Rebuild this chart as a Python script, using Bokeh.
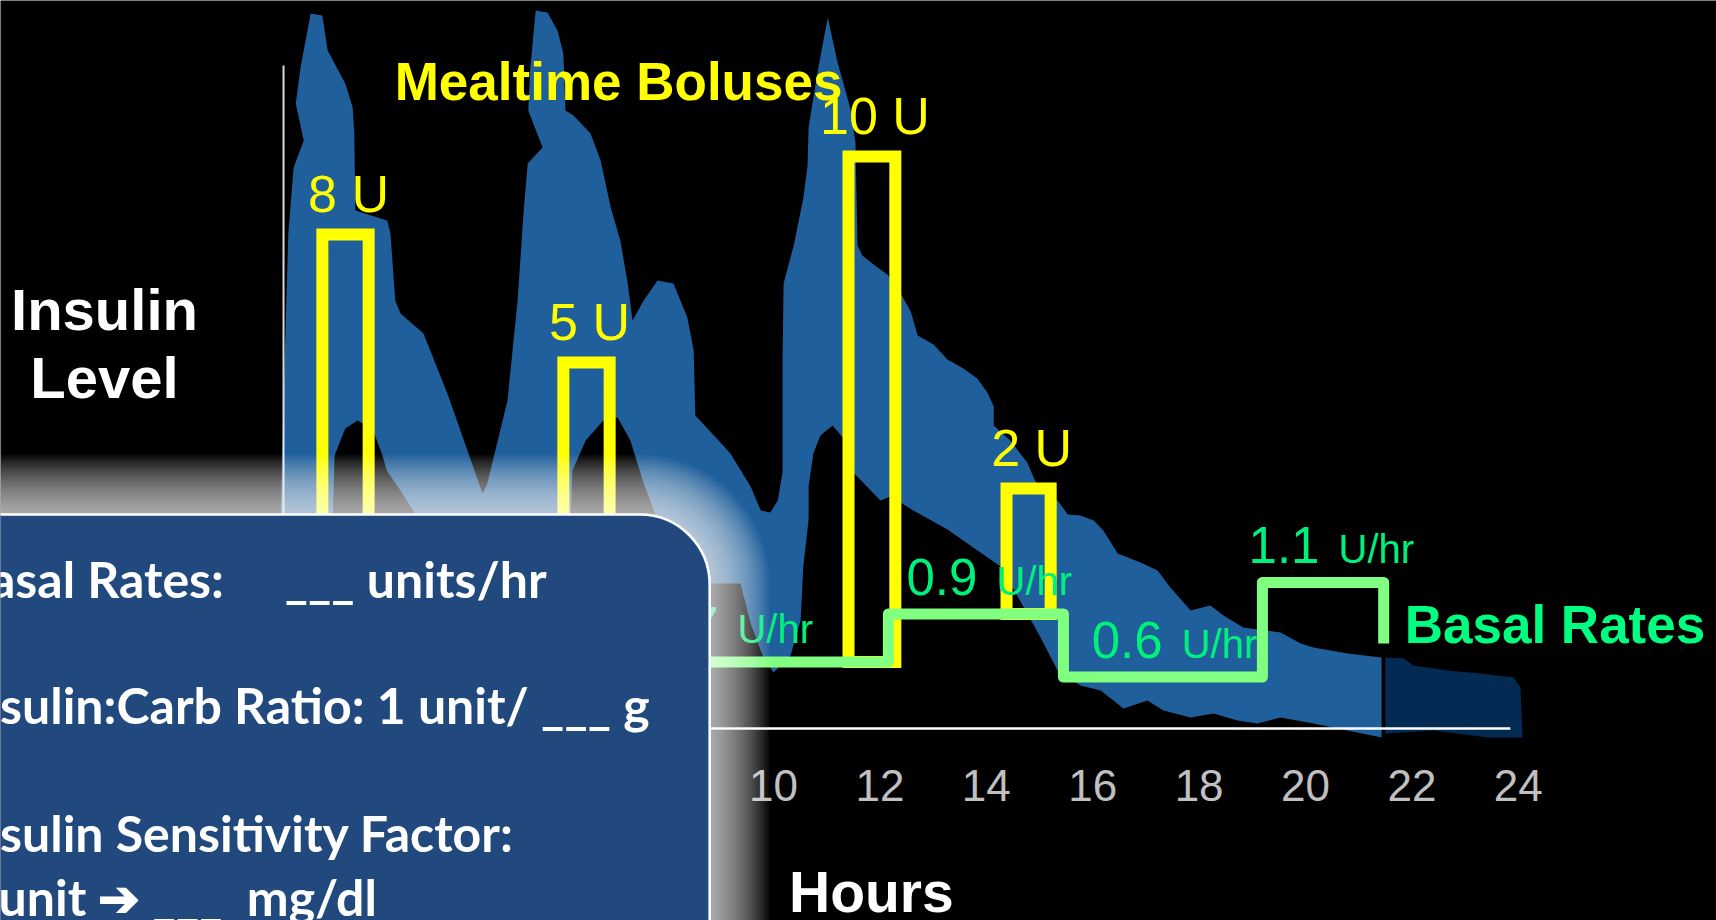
from bokeh.plotting import figure
from bokeh.models import Range1d, BoxAnnotation, Label
from bokeh.core.properties import value
from bokeh.embed import file_html
from bokeh.resources import INLINE

# ---------------- data (hours on x, arbitrary insulin level on y) ----------------
tick_hours = [2, 4, 6, 8, 10, 12, 14, 16, 18, 20, 22, 24]
tick_labels = [str(h) for h in tick_hours]

# insulin level band: upper outline (left -> right)
upper_hours = [0.73, 0.79, 0.88, 0.98, 1.17, 1.02, 1.11, 1.30, 1.52, 1.62, 1.95, 2.09, 2.12, 2.14,
               2.74, 2.80, 2.89, 2.99, 3.42, 3.87, 4.36, 4.53, 4.62, 5.00, 5.19, 5.30, 5.38, 5.66,
               5.39, 5.43, 5.53, 5.75, 5.94, 6.05, 6.09, 6.24, 6.56, 6.75, 6.94, 7.12, 7.26, 7.35,
               7.56, 7.82, 8.12, 8.38, 8.50, 8.53, 8.95, 9.19, 9.57, 9.76, 9.94, 10.08, 10.17, 10.17,
               10.19, 10.38, 10.56, 10.64, 10.66, 10.83, 11.02, 11.20, 11.45, 11.54, 11.58, 11.67,
               11.88, 12.14, 12.39, 12.58, 12.71, 13.01, 13.27, 13.57, 13.83, 14.02, 14.14, 14.14,
               14.45, 14.77, 14.89, 15.02, 15.34, 15.53, 15.77, 16.02, 16.20, 16.47, 16.90, 17.22,
               17.46, 17.84, 18.21, 18.46, 18.83, 19.53, 19.91, 20.15, 20.79, 21.43]
upper_levels = [3.96, 6.56, 9.90, 11.22, 11.76, 12.50, 13.22, 14.30, 14.26, 13.56, 12.90, 12.42, 11.90, 10.36,
                10.16, 9.90, 8.56, 8.30, 7.90, 6.70, 5.22, 4.70, 4.90, 6.56, 8.56, 10.30, 11.30, 11.62,
                12.36, 13.22, 14.36, 14.32, 13.96, 13.50, 12.36, 12.26, 11.90, 11.36, 10.42, 9.76, 8.90, 8.16,
                8.56, 8.96, 8.90, 8.22, 7.56, 6.26, 5.78, 5.50, 4.84, 4.36, 4.32, 4.56, 5.12, 7.38,
                8.90, 9.66, 10.60, 11.26, 12.02, 13.14, 14.22, 13.34, 12.38, 11.72, 9.66, 9.46,
                9.28, 9.08, 8.70, 8.34, 7.86, 7.68, 7.38, 7.20, 7.00, 6.72, 6.44, 6.06,
                5.76, 5.32, 5.02, 4.74, 4.56, 4.28, 4.26, 4.16, 3.96, 3.50, 3.32, 3.16,
                2.82, 2.36, 2.46, 2.26, 2.02, 1.92, 1.70, 1.62, 1.50, 1.42]
# lower outline (right -> left)
lower_hours = [21.43, 20.79, 20.15, 19.53, 19.10, 18.72, 18.27, 17.84, 17.33, 17.03, 16.58, 16.39,
               16.15, 15.77, 15.34, 15.02, 14.77, 14.27, 13.89, 13.27, 12.63, 12.20, 12.01, 11.50,
               11.35, 11.11, 10.88, 10.75, 10.66, 10.66, 10.56, 10.51, 10.32, 10.00, 9.81, 9.57,
               9.38, 8.80, 8.25, 7.78, 7.56, 7.31, 7.07, 6.80, 6.47, 6.22, 6.18, 3.27, 3.27, 2.99,
               2.73, 2.65, 2.46, 2.18, 1.95, 1.75, 1.71]
lower_levels = [-0.18, -0.04, 0.10, 0.22, 0.10, 0.16, 0.30, 0.22, 0.36, 0.56, 0.40, 0.56,
                0.76, 0.86, 1.16, 1.82, 2.30, 3.24, 3.52, 3.98, 4.36, 4.64, 4.56, 5.12,
                5.76, 6.06, 5.86, 5.50, 4.84, 4.18, 3.24, 2.16, 1.46, 1.12, 1.42, 2.10,
                2.90, 2.90, 3.66, 4.28, 4.90, 5.76, 6.22, 6.16, 5.76, 5.16, 3.96, 3.96, 4.28, 4.76,
                5.16, 5.46, 6.00, 6.16, 6.00, 5.46, 3.96]
# projected (darker) tail of the insulin level
proj_hours = [21.50, 21.84, 22.03, 22.67, 23.29, 23.91, 24.04, 24.08, 23.42, 22.41, 21.50]
proj_levels = [1.42, 1.40, 1.26, 1.16, 1.10, 1.02, 0.82, -0.18, -0.18, -0.04, -0.10]

# mealtime boluses
bolus_labels = ["8 U", "5 U", "10 U", "2 U"]
bolus_start = [1.52, 6.05, 11.41, 14.38]
bolus_end = [2.39, 6.92, 12.29, 15.21]
bolus_peak = [9.88, 7.32, 11.44, 4.80]

# basal rates (drawn step levels)
basal_start = [0.75, 12.16, 15.45, 19.19]
basal_stop = 21.47
basal_level = [1.33, 2.29, 1.03, 2.92]
basal_tail_level = 1.70
basal_rate_labels = ["0.7", "0.9", "0.6", "1.1"]
basal_label_at = [7.63, 12.50, 15.98, 18.93]

# info panel (covering the left-bottom part of the chart)
panel_lines = ["Basal Rates:\u00a0\u00a0\u00a0\u00a0\u00a0___ units/hr",
               "Insulin:Carb Ratio: 1 unit/ ___ g",
               "Insulin Sensitivity Factor:",
               "1 unit \u2794 ___\u00a0 mg/dl"]
panel_line_levels = [2.64, 0.12, -2.44, -3.72]

# ---------------- figure ----------------
PXH = 53.2   # pixels per hour
PXL = 50.0   # pixels per level unit
BL = 0.355   # baseline correction (fraction of font size) for svg text
p = figure(width=1716, height=920,
           x_range=Range1d(-4.5301, 27.7256), y_range=Range1d(-3.84, 14.56),
           output_backend="svg", toolbar_location=None, min_border=0,
           x_axis_location=None, y_axis_location=None,
           background_fill_color="black", border_fill_color="black",
           outline_line_color=None)
p.xgrid.visible = False
p.ygrid.visible = False

BLUE = "#1f5f9c"
DARK = "#022a52"
YELLOW = "#ffff00"
GREEN_LINE = "#80ff80"
GREEN_TXT = "#00f07c"
AR = value("Liberation Sans")

# insulin level band
p.patch(upper_hours + lower_hours, upper_levels + lower_levels,
        fill_color=BLUE, line_color=None)
p.patch(proj_hours, proj_levels, fill_color=DARK, line_color=None)

# axes lines
AXIS_X0 = 0.79
p.segment(x0=[AXIS_X0], y0=[0], x1=[AXIS_X0], y1=[13.26], line_color="white", line_width=2, line_alpha=0.85)
p.segment(x0=[AXIS_X0], y0=[0], x1=[23.85], y1=[0], line_color="white", line_width=2.5)

# basal step line
def basal_at(h):
    lvl = basal_level[0]
    for s, l in zip(basal_start, basal_level):
        if h >= s:
            lvl = l
    return lvl

bx, by = [], []
ends = basal_start[1:] + [basal_stop]
for s, e, l in zip(basal_start, ends, basal_level):
    bx += [s, e]
    by += [l, l]
bx.append(basal_stop)
by.append(basal_tail_level)

# bolus bars
p.quad(left=bolus_start, right=bolus_end,
       bottom=[basal_at(s) for s in bolus_start], top=bolus_peak,
       fill_color=None, line_color=YELLOW, line_width=12, line_join="miter")
p.line(bx, by, line_color=GREEN_LINE, line_width=11, line_join="round")

def txt(x, y, text, size, color, align="left", bold=False, dx=0, dy=0):
    p.text(x=x, y=y, text=text, x_offset=dx, y_offset=dy - BL * size,
           text_align=align, text_baseline="alphabetic", text_font=AR,
           text_font_size=f"{size}px", text_font_style="bold" if bold else "normal",
           text_color=color)

# bolus labels
txt([(a + b) / 2 for a, b in zip(bolus_start, bolus_end)], bolus_peak, bolus_labels, 52, YELLOW,
    align="center", dx=3, dy=-22)

# basal labels
lab_lvls = [basal_level[i] for i in range(len(basal_rate_labels))]
txt(basal_label_at, lab_lvls, basal_rate_labels, 51, GREEN_TXT, dy=-19)
txt(basal_label_at, lab_lvls, ["U/hr"] * len(basal_label_at), 40, GREEN_TXT, dx=90, dy=-19)
txt([basal_stop], [basal_tail_level], ["Basal Rates"], 53, "#00ff80", bold=True, dx=21)

# titles
txt([2.88], [12.56], ["Mealtime Boluses"], 53, YELLOW, bold=True)
txt([-2.575, -2.575], [7.96, 6.60], ["Insulin", "Level"], 58, "white", align="center", bold=True)

# x tick labels and axis title
txt(tick_hours, [0] * len(tick_hours), tick_labels, 44, "#c0c0c0", align="center", dy=73)
txt([11.84], [0], ["Hours"], 57, "white", align="center", bold=True, dy=184)

# info panel with soft glow
P_LEFT, P_RIGHT, P_TOP, P_BOTTOM = -6.5, 8.80, 4.28, -5.5
RADIUS = 70
N_GLOW, STEP = 30, 2
for k in range(N_GLOW, 0, -1):
    d = STEP * k
    p.add_layout(BoxAnnotation(left=P_LEFT - 1, right=P_RIGHT + d / PXH, top=P_TOP + d / PXL,
                               bottom=P_BOTTOM - 1, fill_color="white", fill_alpha=0.04,
                               line_alpha=0, border_radius=RADIUS + d, level="annotation"))
p.add_layout(BoxAnnotation(left=P_LEFT, right=P_RIGHT, top=P_TOP, bottom=P_BOTTOM,
                           fill_color="#21497e", fill_alpha=1.0, line_color="white", line_width=2.5,
                           line_alpha=1.0, border_radius=RADIUS, level="annotation"))
PANEL_FS = 50
for t, lv in zip(panel_lines, panel_line_levels):
    p.add_layout(Label(x=-5.34, y=lv + BL * PANEL_FS / PXL, text=t, text_font="Lato",
                       text_font_size=f"{PANEL_FS}px", text_font_style="bold", text_color="white",
                       text_baseline="alphabetic", text_align="left"))

html = file_html(p, INLINE, title="Insulin dosing")
open("out.html", "w").write(html)
